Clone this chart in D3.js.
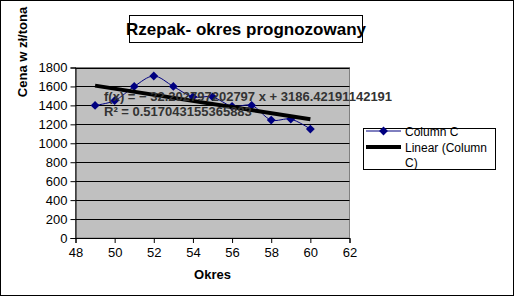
<!doctype html>
<html>
<head>
<meta charset="UTF-8">
<title>Rzepak</title>
<script src="https://d3js.org/d3.v7.min.js"></script>
<style>
  body { margin: 0; background: #fff; }
  text { font-family: "Liberation Sans", Arial, sans-serif; }
</style>
</head>
<body>
<script>
// data
var okres = [49, 50, 51, 52, 53, 54, 55, 56, 57, 58, 59, 60];
var cena = [1400, 1450, 1600, 1710, 1600, 1490, 1490, 1390, 1400, 1245, 1255, 1150];
var yTicks = [0, 200, 400, 600, 800, 1000, 1200, 1400, 1600, 1800];
var xTicks = [48, 50, 52, 54, 56, 58, 60, 62];
var trendSlope = -32.202797202797;
var trendIntercept = 3186.42191142191;
var trendLabel = "f(x) = \u2212 32.202797202797 x + 3186.42191142191";
var r2Label = "R\u00b2 = 0.517043155365883";

var w = 514, h = 296;
var pLeft = 75.5, pRight = 349.5, pTop = 67.5, pBottom = 238;

var svg = d3.select("body").append("svg")
  .attr("width", w).attr("height", h);

svg.append("rect")
  .attr("x", 0.5).attr("y", 0.5).attr("width", w - 1).attr("height", h - 1)
  .attr("fill", "#fff").attr("stroke", "#000");

var x = d3.scaleLinear().domain([48, 62]).range([pLeft, pRight]);
var y = d3.scaleLinear().domain([0, 1800]).range([pBottom, pTop]);

// plot area
svg.append("rect")
  .attr("x", pLeft).attr("y", pTop)
  .attr("width", pRight - pLeft).attr("height", pBottom - pTop)
  .attr("fill", "#c0c0c0").attr("stroke", "#808080");

// grid
svg.selectAll("line.grid").data(yTicks.slice(1)).enter().append("line")
  .attr("class", "grid")
  .attr("x1", pLeft).attr("x2", pRight)
  .attr("y1", function(d){ return Math.round(y(d)) + 0.5; })
  .attr("y2", function(d){ return Math.round(y(d)) + 0.5; })
  .attr("stroke", "#000");

// axes
var yAxis = d3.axisLeft(y).tickValues(yTicks).tickFormat(d3.format("d"))
  .tickSizeOuter(0).tickSize(5).tickPadding(3);
svg.append("g").attr("transform", "translate(" + pLeft + ",0)").call(yAxis)
  .call(function(g){
    g.select(".domain").attr("stroke", "#000");
    g.selectAll("text").attr("font-size", 13).attr("fill", "#000")
      .attr("font-family", "Liberation Sans, Arial, sans-serif");
  });

var xAxis = d3.axisBottom(x).tickValues(xTicks).tickSizeOuter(0).tickSize(5).tickPadding(5);
svg.append("g").attr("transform", "translate(0," + pBottom + ")").call(xAxis)
  .call(function(g){
    g.select(".domain").attr("stroke", "#000");
    g.selectAll("text").attr("font-size", 13).attr("fill", "#000")
      .attr("font-family", "Liberation Sans, Arial, sans-serif");
  });

// series
var pts = okres.map(function(d, i){ return [d, cena[i]]; });
var line = d3.line()
  .x(function(d){ return x(d[0]); })
  .y(function(d){ return y(d[1]); })
  .curve(d3.curveCatmullRom.alpha(0.5));

svg.append("path").datum(pts)
  .attr("d", line).attr("fill", "none")
  .attr("stroke", "#000080").attr("stroke-width", 1);

var diamond = d3.symbol().type(d3.symbolDiamond2).size(50);
svg.selectAll("path.pt").data(pts).enter().append("path")
  .attr("class", "pt")
  .attr("d", diamond)
  .attr("transform", function(d){ return "translate(" + x(d[0]) + "," + y(d[1]) + ")"; })
  .attr("fill", "#000080");

// trend line
var tx = [okres[0], okres[okres.length - 1]];
svg.append("line")
  .attr("x1", x(tx[0])).attr("y1", y(trendSlope * tx[0] + trendIntercept))
  .attr("x2", x(tx[1])).attr("y2", y(trendSlope * tx[1] + trendIntercept))
  .attr("stroke", "#000").attr("stroke-width", 4);

// equation
svg.append("text").attr("x", 104).attr("y", 101)
  .attr("font-size", 13).attr("font-weight", "bold").attr("fill", "#333")
  .text(trendLabel);
svg.append("text").attr("x", 104).attr("y", 116)
  .attr("font-size", 13).attr("font-weight", "bold").attr("fill", "#333")
  .text(r2Label);

// title
svg.append("rect")
  .attr("x", 129.5).attr("y", 15.5).attr("width", 233).attr("height", 27)
  .attr("fill", "#fff").attr("stroke", "#000");
svg.append("text").attr("x", 246).attr("y", 35)
  .attr("text-anchor", "middle").attr("font-size", 17).attr("font-weight", "bold")
  .text("Rzepak- okres prognozowany");

// axis titles
svg.append("text").attr("x", (pLeft + pRight) / 2).attr("y", 279)
  .attr("text-anchor", "middle").attr("font-size", 13).attr("font-weight", "bold")
  .text("Okres");
svg.append("text")
  .attr("transform", "translate(27,52) rotate(-90)")
  .attr("text-anchor", "middle").attr("font-size", 13).attr("font-weight", "bold")
  .text("Cena w zł/tona");

// legend
var lg = svg.append("g");
lg.append("rect").attr("x", 363.5).attr("y", 128.5).attr("width", 132).attr("height", 41)
  .attr("fill", "#fff").attr("stroke", "#000");
lg.append("line").attr("x1", 366).attr("x2", 401).attr("y1", 131).attr("y2", 131)
  .attr("stroke", "#000080");
lg.append("path").attr("d", diamond).attr("transform", "translate(383.5,131)").attr("fill", "#000080");
lg.append("text").attr("x", 405).attr("y", 136).attr("font-size", 12).text("Column C");
lg.append("line").attr("x1", 366).attr("x2", 401).attr("y1", 147).attr("y2", 147)
  .attr("stroke", "#000").attr("stroke-width", 4);
lg.append("text").attr("x", 405).attr("y", 152).attr("font-size", 12).text("Linear (Column");
lg.append("text").attr("x", 405).attr("y", 167).attr("font-size", 12).text("C)");
</script>
</body>
</html>
